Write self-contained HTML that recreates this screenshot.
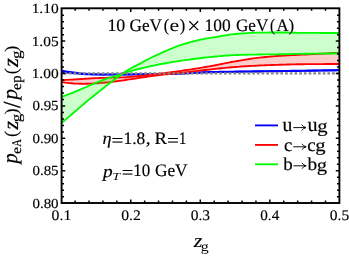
<!DOCTYPE html>
<html><head><meta charset="utf-8"><title>plot</title>
<style>
html,body{margin:0;padding:0;background:#fff;}
svg{display:block;}
text{font-family:"Liberation Serif",serif;fill:#000;stroke:#000;stroke-width:0.16px;text-rendering:geometricPrecision;}
.i{font-style:italic;}
</style></head>
<body>
<svg width="349" height="256" viewBox="0 0 349 256" style="will-change:transform">
<rect width="349" height="256" fill="#fff"/>
<path d="M61.6,70.60 L63.6,70.97 L65.6,71.32 L67.6,71.64 L69.6,71.94 L71.6,72.22 L73.6,72.50 L75.6,72.77 L77.6,73.03 L79.6,73.26 L81.6,73.47 L83.6,73.65 L85.6,73.78 L87.6,73.88 L89.6,73.97 L91.6,74.06 L93.6,74.13 L95.6,74.20 L97.6,74.25 L99.6,74.28 L101.6,74.30 L103.6,74.30 L105.6,74.30 L107.6,74.30 L109.6,74.30 L111.6,74.30 L113.6,74.30 L115.6,74.30 L117.6,74.30 L119.6,74.30 L121.6,74.30 L123.6,74.30 L125.6,74.30 L127.6,74.30 L129.6,74.30 L131.5,74.30 L133.5,74.29 L135.5,74.29 L137.5,74.27 L139.5,74.26 L141.5,74.24 L143.5,74.22 L145.5,74.20 L147.5,74.17 L149.5,74.14 L151.5,74.11 L153.5,74.08 L155.5,74.04 L157.5,74.00 L159.5,73.97 L161.5,73.92 L163.5,73.88 L165.5,73.84 L167.5,73.80 L169.5,73.75 L171.5,73.70 L173.5,73.66 L175.5,73.61 L177.5,73.56 L179.5,73.49 L181.5,73.41 L183.5,73.32 L185.5,73.23 L187.5,73.12 L189.5,73.01 L191.5,72.89 L193.5,72.77 L195.5,72.66 L197.5,72.54 L199.5,72.43 L201.5,72.33 L203.5,72.23 L205.5,72.15 L207.5,72.07 L209.5,72.01 L211.5,71.96 L213.5,71.92 L215.5,71.87 L217.5,71.83 L219.5,71.79 L221.5,71.75 L223.5,71.72 L225.5,71.68 L227.5,71.65 L229.5,71.62 L231.5,71.59 L233.5,71.56 L235.5,71.53 L237.5,71.50 L239.5,71.48 L241.5,71.45 L243.5,71.42 L245.5,71.40 L247.5,71.37 L249.5,71.34 L251.5,71.32 L253.5,71.29 L255.5,71.26 L257.5,71.24 L259.5,71.21 L261.5,71.18 L263.5,71.15 L265.5,71.12 L267.5,71.10 L269.5,71.07 L271.4,71.04 L273.4,71.02 L275.4,70.99 L277.4,70.96 L279.4,70.94 L281.4,70.91 L283.4,70.89 L285.4,70.86 L287.4,70.83 L289.4,70.81 L291.4,70.78 L293.4,70.75 L295.4,70.72 L297.4,70.69 L299.4,70.66 L301.4,70.63 L303.4,70.60 L305.4,70.57 L307.4,70.54 L309.4,70.51 L311.4,70.48 L313.4,70.45 L315.4,70.42 L317.4,70.38 L319.4,70.35 L321.4,70.32 L323.4,70.28 L325.4,70.25 L327.4,70.22 L329.4,70.18 L331.4,70.15 L333.4,70.11 L335.4,70.08 L337.4,70.04 L339.4,70.01 L339.4,70.41 L337.4,70.43 L335.4,70.46 L333.4,70.49 L331.4,70.52 L329.4,70.55 L327.4,70.58 L325.4,70.60 L323.4,70.63 L321.4,70.66 L319.4,70.69 L317.4,70.72 L315.4,70.74 L313.4,70.77 L311.4,70.80 L309.4,70.83 L307.4,70.86 L305.4,70.88 L303.4,70.91 L301.4,70.94 L299.4,70.97 L297.4,70.99 L295.4,71.02 L293.4,71.05 L291.4,71.08 L289.4,71.10 L287.4,71.13 L285.4,71.15 L283.4,71.18 L281.4,71.21 L279.4,71.23 L277.4,71.26 L275.4,71.29 L273.4,71.31 L271.4,71.34 L269.5,71.37 L267.5,71.39 L265.5,71.42 L263.5,71.45 L261.5,71.48 L259.5,71.51 L257.5,71.54 L255.5,71.56 L253.5,71.59 L251.5,71.62 L249.5,71.64 L247.5,71.67 L245.5,71.70 L243.5,71.72 L241.5,71.75 L239.5,71.78 L237.5,71.81 L235.5,71.83 L233.5,71.86 L231.5,71.89 L229.5,71.92 L227.5,71.95 L225.5,71.99 L223.5,72.02 L221.5,72.06 L219.5,72.10 L217.5,72.13 L215.5,72.18 L213.5,72.22 L211.5,72.26 L209.5,72.31 L207.5,72.37 L205.5,72.44 L203.5,72.52 L201.5,72.61 L199.5,72.71 L197.5,72.81 L195.5,72.92 L193.5,73.03 L191.5,73.14 L189.5,73.24 L187.5,73.35 L185.5,73.45 L183.5,73.54 L181.5,73.62 L179.5,73.70 L177.5,73.76 L175.5,73.81 L173.5,73.86 L171.5,73.90 L169.5,73.94 L167.5,73.98 L165.5,74.02 L163.5,74.06 L161.5,74.09 L159.5,74.13 L157.5,74.16 L155.5,74.19 L153.5,74.22 L151.5,74.25 L149.5,74.28 L147.5,74.30 L145.5,74.33 L143.5,74.36 L141.5,74.38 L139.5,74.40 L137.5,74.42 L135.5,74.45 L133.5,74.47 L131.5,74.49 L129.6,74.50 L127.6,74.52 L125.6,74.54 L123.6,74.56 L121.6,74.58 L119.6,74.60 L117.6,74.62 L115.6,74.64 L113.6,74.65 L111.6,74.67 L109.6,74.68 L107.6,74.69 L105.6,74.69 L103.6,74.70 L101.6,74.70 L99.6,74.69 L97.6,74.66 L95.6,74.62 L93.6,74.57 L91.6,74.51 L89.6,74.44 L87.6,74.36 L85.6,74.28 L83.6,74.17 L81.6,74.03 L79.6,73.85 L77.6,73.65 L75.6,73.43 L73.6,73.21 L71.6,72.98 L69.6,72.75 L67.6,72.52 L65.6,72.26 L63.6,71.98 L61.6,71.70 Z" fill="#0000ff" fill-opacity="0.2"/>
<path d="M61.6,70.60 L63.6,70.97 L65.6,71.32 L67.6,71.64 L69.6,71.94 L71.6,72.22 L73.6,72.50 L75.6,72.77 L77.6,73.03 L79.6,73.26 L81.6,73.47 L83.6,73.65 L85.6,73.78 L87.6,73.88 L89.6,73.97 L91.6,74.06 L93.6,74.13 L95.6,74.20 L97.6,74.25 L99.6,74.28 L101.6,74.30 L103.6,74.30 L105.6,74.30 L107.6,74.30 L109.6,74.30 L111.6,74.30 L113.6,74.30 L115.6,74.30 L117.6,74.30 L119.6,74.30 L121.6,74.30 L123.6,74.30 L125.6,74.30 L127.6,74.30 L129.6,74.30 L131.5,74.30 L133.5,74.29 L135.5,74.29 L137.5,74.27 L139.5,74.26 L141.5,74.24 L143.5,74.22 L145.5,74.20 L147.5,74.17 L149.5,74.14 L151.5,74.11 L153.5,74.08 L155.5,74.04 L157.5,74.00 L159.5,73.97 L161.5,73.92 L163.5,73.88 L165.5,73.84 L167.5,73.80 L169.5,73.75 L171.5,73.70 L173.5,73.66 L175.5,73.61 L177.5,73.56 L179.5,73.49 L181.5,73.41 L183.5,73.32 L185.5,73.23 L187.5,73.12 L189.5,73.01 L191.5,72.89 L193.5,72.77 L195.5,72.66 L197.5,72.54 L199.5,72.43 L201.5,72.33 L203.5,72.23 L205.5,72.15 L207.5,72.07 L209.5,72.01 L211.5,71.96 L213.5,71.92 L215.5,71.87 L217.5,71.83 L219.5,71.79 L221.5,71.75 L223.5,71.72 L225.5,71.68 L227.5,71.65 L229.5,71.62 L231.5,71.59 L233.5,71.56 L235.5,71.53 L237.5,71.50 L239.5,71.48 L241.5,71.45 L243.5,71.42 L245.5,71.40 L247.5,71.37 L249.5,71.34 L251.5,71.32 L253.5,71.29 L255.5,71.26 L257.5,71.24 L259.5,71.21 L261.5,71.18 L263.5,71.15 L265.5,71.12 L267.5,71.10 L269.5,71.07 L271.4,71.04 L273.4,71.02 L275.4,70.99 L277.4,70.96 L279.4,70.94 L281.4,70.91 L283.4,70.89 L285.4,70.86 L287.4,70.83 L289.4,70.81 L291.4,70.78 L293.4,70.75 L295.4,70.72 L297.4,70.69 L299.4,70.66 L301.4,70.63 L303.4,70.60 L305.4,70.57 L307.4,70.54 L309.4,70.51 L311.4,70.48 L313.4,70.45 L315.4,70.42 L317.4,70.38 L319.4,70.35 L321.4,70.32 L323.4,70.28 L325.4,70.25 L327.4,70.22 L329.4,70.18 L331.4,70.15 L333.4,70.11 L335.4,70.08 L337.4,70.04 L339.4,70.01" fill="none" stroke="#0000ff" stroke-width="1.85"/>
<path d="M61.6,71.70 L63.6,71.98 L65.6,72.26 L67.6,72.52 L69.6,72.75 L71.6,72.98 L73.6,73.21 L75.6,73.43 L77.6,73.65 L79.6,73.85 L81.6,74.03 L83.6,74.17 L85.6,74.28 L87.6,74.36 L89.6,74.44 L91.6,74.51 L93.6,74.57 L95.6,74.62 L97.6,74.66 L99.6,74.69 L101.6,74.70 L103.6,74.70 L105.6,74.69 L107.6,74.69 L109.6,74.68 L111.6,74.67 L113.6,74.65 L115.6,74.64 L117.6,74.62 L119.6,74.60 L121.6,74.58 L123.6,74.56 L125.6,74.54 L127.6,74.52 L129.6,74.50 L131.5,74.49 L133.5,74.47 L135.5,74.45 L137.5,74.42 L139.5,74.40 L141.5,74.38 L143.5,74.36 L145.5,74.33 L147.5,74.30 L149.5,74.28 L151.5,74.25 L153.5,74.22 L155.5,74.19 L157.5,74.16 L159.5,74.13 L161.5,74.09 L163.5,74.06 L165.5,74.02 L167.5,73.98 L169.5,73.94 L171.5,73.90 L173.5,73.86 L175.5,73.81 L177.5,73.76 L179.5,73.70 L181.5,73.62 L183.5,73.54 L185.5,73.45 L187.5,73.35 L189.5,73.24 L191.5,73.14 L193.5,73.03 L195.5,72.92 L197.5,72.81 L199.5,72.71 L201.5,72.61 L203.5,72.52 L205.5,72.44 L207.5,72.37 L209.5,72.31 L211.5,72.26 L213.5,72.22 L215.5,72.18 L217.5,72.13 L219.5,72.10 L221.5,72.06 L223.5,72.02 L225.5,71.99 L227.5,71.95 L229.5,71.92 L231.5,71.89 L233.5,71.86 L235.5,71.83 L237.5,71.81 L239.5,71.78 L241.5,71.75 L243.5,71.72 L245.5,71.70 L247.5,71.67 L249.5,71.64 L251.5,71.62 L253.5,71.59 L255.5,71.56 L257.5,71.54 L259.5,71.51 L261.5,71.48 L263.5,71.45 L265.5,71.42 L267.5,71.39 L269.5,71.37 L271.4,71.34 L273.4,71.31 L275.4,71.29 L277.4,71.26 L279.4,71.23 L281.4,71.21 L283.4,71.18 L285.4,71.15 L287.4,71.13 L289.4,71.10 L291.4,71.08 L293.4,71.05 L295.4,71.02 L297.4,70.99 L299.4,70.97 L301.4,70.94 L303.4,70.91 L305.4,70.88 L307.4,70.86 L309.4,70.83 L311.4,70.80 L313.4,70.77 L315.4,70.74 L317.4,70.72 L319.4,70.69 L321.4,70.66 L323.4,70.63 L325.4,70.60 L327.4,70.58 L329.4,70.55 L331.4,70.52 L333.4,70.49 L335.4,70.46 L337.4,70.43 L339.4,70.41" fill="none" stroke="#0000ff" stroke-width="1.85"/>
<path d="M61.6,80.20 L63.6,80.07 L65.6,79.95 L67.6,79.82 L69.6,79.70 L71.6,79.58 L73.6,79.46 L75.6,79.34 L77.6,79.22 L79.6,79.11 L81.6,78.99 L83.6,78.86 L85.6,78.74 L87.6,78.62 L89.6,78.49 L91.6,78.38 L93.6,78.27 L95.6,78.16 L97.6,78.07 L99.6,77.99 L101.6,77.91 L103.6,77.86 L105.6,77.81 L107.6,77.77 L109.6,77.73 L111.6,77.70 L113.6,77.66 L115.6,77.62 L117.6,77.57 L119.6,77.51 L121.6,77.44 L123.6,77.34 L125.6,77.22 L127.6,77.08 L129.6,76.93 L131.5,76.77 L133.5,76.59 L135.5,76.41 L137.5,76.23 L139.5,76.04 L141.5,75.85 L143.5,75.64 L145.5,75.42 L147.5,75.18 L149.5,74.94 L151.5,74.68 L153.5,74.42 L155.5,74.16 L157.5,73.90 L159.5,73.64 L161.5,73.38 L163.5,73.14 L165.5,72.90 L167.5,72.66 L169.5,72.42 L171.5,72.18 L173.5,71.93 L175.5,71.66 L177.5,71.39 L179.5,71.11 L181.5,70.83 L183.5,70.54 L185.5,70.24 L187.5,69.94 L189.5,69.64 L191.5,69.33 L193.5,69.01 L195.5,68.69 L197.5,68.37 L199.5,68.04 L201.5,67.71 L203.5,67.37 L205.5,67.03 L207.5,66.69 L209.5,66.34 L211.5,65.98 L213.5,65.61 L215.5,65.23 L217.5,64.83 L219.5,64.43 L221.5,64.02 L223.5,63.61 L225.5,63.20 L227.5,62.80 L229.5,62.41 L231.5,62.03 L233.5,61.67 L235.5,61.32 L237.5,60.98 L239.5,60.64 L241.5,60.30 L243.5,59.96 L245.5,59.63 L247.5,59.31 L249.5,59.00 L251.5,58.70 L253.5,58.41 L255.5,58.14 L257.5,57.89 L259.5,57.66 L261.5,57.44 L263.5,57.24 L265.5,57.04 L267.5,56.85 L269.5,56.67 L271.4,56.49 L273.4,56.32 L275.4,56.16 L277.4,56.01 L279.4,55.87 L281.4,55.73 L283.4,55.60 L285.4,55.47 L287.4,55.36 L289.4,55.26 L291.4,55.16 L293.4,55.07 L295.4,54.98 L297.4,54.88 L299.4,54.78 L301.4,54.68 L303.4,54.57 L305.4,54.47 L307.4,54.37 L309.4,54.27 L311.4,54.17 L313.4,54.07 L315.4,53.96 L317.4,53.86 L319.4,53.76 L321.4,53.66 L323.4,53.55 L325.4,53.45 L327.4,53.35 L329.4,53.24 L331.4,53.14 L333.4,53.03 L335.4,52.93 L337.4,52.83 L339.4,52.72 L339.4,64.00 L337.4,64.00 L335.4,64.00 L333.4,64.01 L331.4,64.01 L329.4,64.02 L327.4,64.03 L325.4,64.04 L323.4,64.05 L321.4,64.06 L319.4,64.08 L317.4,64.09 L315.4,64.11 L313.4,64.13 L311.4,64.14 L309.4,64.16 L307.4,64.18 L305.4,64.20 L303.4,64.22 L301.4,64.25 L299.4,64.27 L297.4,64.29 L295.4,64.32 L293.4,64.36 L291.4,64.41 L289.4,64.47 L287.4,64.53 L285.4,64.59 L283.4,64.65 L281.4,64.71 L279.4,64.77 L277.4,64.83 L275.4,64.90 L273.4,64.97 L271.4,65.04 L269.5,65.11 L267.5,65.19 L265.5,65.27 L263.5,65.35 L261.5,65.44 L259.5,65.52 L257.5,65.62 L255.5,65.72 L253.5,65.82 L251.5,65.93 L249.5,66.04 L247.5,66.16 L245.5,66.28 L243.5,66.41 L241.5,66.54 L239.5,66.68 L237.5,66.82 L235.5,66.96 L233.5,67.12 L231.5,67.28 L229.5,67.46 L227.5,67.65 L225.5,67.85 L223.5,68.05 L221.5,68.26 L219.5,68.47 L217.5,68.69 L215.5,68.91 L213.5,69.12 L211.5,69.34 L209.5,69.55 L207.5,69.77 L205.5,69.99 L203.5,70.22 L201.5,70.45 L199.5,70.68 L197.5,70.92 L195.5,71.15 L193.5,71.39 L191.5,71.63 L189.5,71.87 L187.5,72.10 L185.5,72.34 L183.5,72.57 L181.5,72.80 L179.5,73.02 L177.5,73.24 L175.5,73.45 L173.5,73.65 L171.5,73.85 L169.5,74.04 L167.5,74.23 L165.5,74.42 L163.5,74.62 L161.5,74.83 L159.5,75.06 L157.5,75.30 L155.5,75.56 L153.5,75.83 L151.5,76.11 L149.5,76.40 L147.5,76.69 L145.5,76.98 L143.5,77.28 L141.5,77.58 L139.5,77.87 L137.5,78.16 L135.5,78.47 L133.5,78.78 L131.5,79.09 L129.6,79.40 L127.6,79.71 L125.6,80.01 L123.6,80.30 L121.6,80.59 L119.6,80.86 L117.6,81.12 L115.6,81.39 L113.6,81.64 L111.6,81.89 L109.6,82.12 L107.6,82.34 L105.6,82.54 L103.6,82.74 L101.6,82.94 L99.6,83.12 L97.6,83.28 L95.6,83.42 L93.6,83.52 L91.6,83.60 L89.6,83.68 L87.6,83.75 L85.6,83.79 L83.6,83.80 L81.6,83.78 L79.6,83.73 L77.6,83.66 L75.6,83.58 L73.6,83.46 L71.6,83.28 L69.6,83.07 L67.6,82.85 L65.6,82.61 L63.6,82.32 L61.6,82.00 Z" fill="#ff0000" fill-opacity="0.2"/>
<path d="M61.6,80.20 L63.6,80.07 L65.6,79.95 L67.6,79.82 L69.6,79.70 L71.6,79.58 L73.6,79.46 L75.6,79.34 L77.6,79.22 L79.6,79.11 L81.6,78.99 L83.6,78.86 L85.6,78.74 L87.6,78.62 L89.6,78.49 L91.6,78.38 L93.6,78.27 L95.6,78.16 L97.6,78.07 L99.6,77.99 L101.6,77.91 L103.6,77.86 L105.6,77.81 L107.6,77.77 L109.6,77.73 L111.6,77.70 L113.6,77.66 L115.6,77.62 L117.6,77.57 L119.6,77.51 L121.6,77.44 L123.6,77.34 L125.6,77.22 L127.6,77.08 L129.6,76.93 L131.5,76.77 L133.5,76.59 L135.5,76.41 L137.5,76.23 L139.5,76.04 L141.5,75.85 L143.5,75.64 L145.5,75.42 L147.5,75.18 L149.5,74.94 L151.5,74.68 L153.5,74.42 L155.5,74.16 L157.5,73.90 L159.5,73.64 L161.5,73.38 L163.5,73.14 L165.5,72.90 L167.5,72.66 L169.5,72.42 L171.5,72.18 L173.5,71.93 L175.5,71.66 L177.5,71.39 L179.5,71.11 L181.5,70.83 L183.5,70.54 L185.5,70.24 L187.5,69.94 L189.5,69.64 L191.5,69.33 L193.5,69.01 L195.5,68.69 L197.5,68.37 L199.5,68.04 L201.5,67.71 L203.5,67.37 L205.5,67.03 L207.5,66.69 L209.5,66.34 L211.5,65.98 L213.5,65.61 L215.5,65.23 L217.5,64.83 L219.5,64.43 L221.5,64.02 L223.5,63.61 L225.5,63.20 L227.5,62.80 L229.5,62.41 L231.5,62.03 L233.5,61.67 L235.5,61.32 L237.5,60.98 L239.5,60.64 L241.5,60.30 L243.5,59.96 L245.5,59.63 L247.5,59.31 L249.5,59.00 L251.5,58.70 L253.5,58.41 L255.5,58.14 L257.5,57.89 L259.5,57.66 L261.5,57.44 L263.5,57.24 L265.5,57.04 L267.5,56.85 L269.5,56.67 L271.4,56.49 L273.4,56.32 L275.4,56.16 L277.4,56.01 L279.4,55.87 L281.4,55.73 L283.4,55.60 L285.4,55.47 L287.4,55.36 L289.4,55.26 L291.4,55.16 L293.4,55.07 L295.4,54.98 L297.4,54.88 L299.4,54.78 L301.4,54.68 L303.4,54.57 L305.4,54.47 L307.4,54.37 L309.4,54.27 L311.4,54.17 L313.4,54.07 L315.4,53.96 L317.4,53.86 L319.4,53.76 L321.4,53.66 L323.4,53.55 L325.4,53.45 L327.4,53.35 L329.4,53.24 L331.4,53.14 L333.4,53.03 L335.4,52.93 L337.4,52.83 L339.4,52.72" fill="none" stroke="#ff0000" stroke-width="1.85"/>
<path d="M61.6,82.00 L63.6,82.32 L65.6,82.61 L67.6,82.85 L69.6,83.07 L71.6,83.28 L73.6,83.46 L75.6,83.58 L77.6,83.66 L79.6,83.73 L81.6,83.78 L83.6,83.80 L85.6,83.79 L87.6,83.75 L89.6,83.68 L91.6,83.60 L93.6,83.52 L95.6,83.42 L97.6,83.28 L99.6,83.12 L101.6,82.94 L103.6,82.74 L105.6,82.54 L107.6,82.34 L109.6,82.12 L111.6,81.89 L113.6,81.64 L115.6,81.39 L117.6,81.12 L119.6,80.86 L121.6,80.59 L123.6,80.30 L125.6,80.01 L127.6,79.71 L129.6,79.40 L131.5,79.09 L133.5,78.78 L135.5,78.47 L137.5,78.16 L139.5,77.87 L141.5,77.58 L143.5,77.28 L145.5,76.98 L147.5,76.69 L149.5,76.40 L151.5,76.11 L153.5,75.83 L155.5,75.56 L157.5,75.30 L159.5,75.06 L161.5,74.83 L163.5,74.62 L165.5,74.42 L167.5,74.23 L169.5,74.04 L171.5,73.85 L173.5,73.65 L175.5,73.45 L177.5,73.24 L179.5,73.02 L181.5,72.80 L183.5,72.57 L185.5,72.34 L187.5,72.10 L189.5,71.87 L191.5,71.63 L193.5,71.39 L195.5,71.15 L197.5,70.92 L199.5,70.68 L201.5,70.45 L203.5,70.22 L205.5,69.99 L207.5,69.77 L209.5,69.55 L211.5,69.34 L213.5,69.12 L215.5,68.91 L217.5,68.69 L219.5,68.47 L221.5,68.26 L223.5,68.05 L225.5,67.85 L227.5,67.65 L229.5,67.46 L231.5,67.28 L233.5,67.12 L235.5,66.96 L237.5,66.82 L239.5,66.68 L241.5,66.54 L243.5,66.41 L245.5,66.28 L247.5,66.16 L249.5,66.04 L251.5,65.93 L253.5,65.82 L255.5,65.72 L257.5,65.62 L259.5,65.52 L261.5,65.44 L263.5,65.35 L265.5,65.27 L267.5,65.19 L269.5,65.11 L271.4,65.04 L273.4,64.97 L275.4,64.90 L277.4,64.83 L279.4,64.77 L281.4,64.71 L283.4,64.65 L285.4,64.59 L287.4,64.53 L289.4,64.47 L291.4,64.41 L293.4,64.36 L295.4,64.32 L297.4,64.29 L299.4,64.27 L301.4,64.25 L303.4,64.22 L305.4,64.20 L307.4,64.18 L309.4,64.16 L311.4,64.14 L313.4,64.13 L315.4,64.11 L317.4,64.09 L319.4,64.08 L321.4,64.06 L323.4,64.05 L325.4,64.04 L327.4,64.03 L329.4,64.02 L331.4,64.01 L333.4,64.01 L335.4,64.00 L337.4,64.00 L339.4,64.00" fill="none" stroke="#ff0000" stroke-width="1.85"/>
<path d="M61.6,123.00 L63.6,121.29 L65.6,119.58 L67.6,117.87 L69.6,116.16 L71.6,114.45 L73.6,112.75 L75.6,111.04 L77.6,109.33 L79.6,107.61 L81.6,105.89 L83.6,104.18 L85.6,102.48 L87.6,100.80 L89.6,99.15 L91.6,97.52 L93.6,95.92 L95.6,94.34 L97.6,92.74 L99.6,91.13 L101.6,89.52 L103.6,87.92 L105.6,86.34 L107.6,84.78 L109.6,83.23 L111.6,81.69 L113.6,80.17 L115.6,78.66 L117.6,77.18 L119.6,75.72 L121.6,74.29 L123.6,72.89 L125.6,71.58 L127.6,70.33 L129.6,69.13 L131.5,67.99 L133.5,66.92 L135.5,65.89 L137.5,64.86 L139.5,63.81 L141.5,62.73 L143.5,61.64 L145.5,60.57 L147.5,59.52 L149.5,58.50 L151.5,57.49 L153.5,56.50 L155.5,55.55 L157.5,54.63 L159.5,53.73 L161.5,52.84 L163.5,51.97 L165.5,51.10 L167.5,50.25 L169.5,49.41 L171.5,48.59 L173.5,47.76 L175.5,46.95 L177.5,46.17 L179.5,45.46 L181.5,44.82 L183.5,44.19 L185.5,43.59 L187.5,43.00 L189.5,42.44 L191.5,41.89 L193.5,41.36 L195.5,40.86 L197.5,40.37 L199.5,39.91 L201.5,39.47 L203.5,39.05 L205.5,38.65 L207.5,38.29 L209.5,37.96 L211.5,37.64 L213.5,37.34 L215.5,37.04 L217.5,36.72 L219.5,36.39 L221.5,36.03 L223.5,35.68 L225.5,35.32 L227.5,34.98 L229.5,34.67 L231.5,34.38 L233.5,34.15 L235.5,33.96 L237.5,33.79 L239.5,33.63 L241.5,33.48 L243.5,33.33 L245.5,33.19 L247.5,33.06 L249.5,32.95 L251.5,32.84 L253.5,32.76 L255.5,32.69 L257.5,32.64 L259.5,32.60 L261.5,32.59 L263.5,32.58 L265.5,32.56 L267.5,32.55 L269.5,32.54 L271.4,32.53 L273.4,32.52 L275.4,32.52 L277.4,32.51 L279.4,32.51 L281.4,32.50 L283.4,32.50 L285.4,32.50 L287.4,32.53 L289.4,32.58 L291.4,32.65 L293.4,32.72 L295.4,32.78 L297.4,32.80 L299.4,32.82 L301.4,32.84 L303.4,32.85 L305.4,32.87 L307.4,32.88 L309.4,32.90 L311.4,32.91 L313.4,32.92 L315.4,32.93 L317.4,32.94 L319.4,32.95 L321.4,32.96 L323.4,32.97 L325.4,32.98 L327.4,32.98 L329.4,32.99 L331.4,32.99 L333.4,33.00 L335.4,33.00 L337.4,33.00 L339.4,33.00 L339.4,53.50 L337.4,53.50 L335.4,53.51 L333.4,53.51 L331.4,53.52 L329.4,53.53 L327.4,53.54 L325.4,53.56 L323.4,53.57 L321.4,53.59 L319.4,53.61 L317.4,53.63 L315.4,53.65 L313.4,53.68 L311.4,53.70 L309.4,53.73 L307.4,53.75 L305.4,53.78 L303.4,53.81 L301.4,53.84 L299.4,53.86 L297.4,53.89 L295.4,53.93 L293.4,53.98 L291.4,54.03 L289.4,54.09 L287.4,54.15 L285.4,54.19 L283.4,54.23 L281.4,54.25 L279.4,54.28 L277.4,54.30 L275.4,54.32 L273.4,54.34 L271.4,54.36 L269.5,54.38 L267.5,54.40 L265.5,54.43 L263.5,54.45 L261.5,54.48 L259.5,54.51 L257.5,54.54 L255.5,54.58 L253.5,54.61 L251.5,54.65 L249.5,54.69 L247.5,54.74 L245.5,54.78 L243.5,54.83 L241.5,54.89 L239.5,54.95 L237.5,55.01 L235.5,55.08 L233.5,55.16 L231.5,55.27 L229.5,55.39 L227.5,55.53 L225.5,55.68 L223.5,55.85 L221.5,56.01 L219.5,56.19 L217.5,56.36 L215.5,56.53 L213.5,56.72 L211.5,56.91 L209.5,57.11 L207.5,57.33 L205.5,57.54 L203.5,57.77 L201.5,58.00 L199.5,58.25 L197.5,58.50 L195.5,58.75 L193.5,59.01 L191.5,59.28 L189.5,59.55 L187.5,59.83 L185.5,60.11 L183.5,60.40 L181.5,60.68 L179.5,60.97 L177.5,61.27 L175.5,61.57 L173.5,61.89 L171.5,62.21 L169.5,62.55 L167.5,62.89 L165.5,63.24 L163.5,63.60 L161.5,63.98 L159.5,64.37 L157.5,64.78 L155.5,65.19 L153.5,65.60 L151.5,66.02 L149.5,66.44 L147.5,66.88 L145.5,67.33 L143.5,67.80 L141.5,68.27 L139.5,68.76 L137.5,69.26 L135.5,69.77 L133.5,70.29 L131.5,70.84 L129.6,71.43 L127.6,72.07 L125.6,72.74 L123.6,73.42 L121.6,74.09 L119.6,74.74 L117.6,75.35 L115.6,75.95 L113.6,76.53 L111.6,77.12 L109.6,77.73 L107.6,78.37 L105.6,79.05 L103.6,79.78 L101.6,80.55 L99.6,81.35 L97.6,82.17 L95.6,83.01 L93.6,83.84 L91.6,84.68 L89.6,85.52 L87.6,86.38 L85.6,87.26 L83.6,88.13 L81.6,89.00 L79.6,89.85 L77.6,90.67 L75.6,91.47 L73.6,92.27 L71.6,93.05 L69.6,93.82 L67.6,94.58 L65.6,95.34 L63.6,96.07 L61.6,96.80 Z" fill="#00ff00" fill-opacity="0.2"/>
<path d="M61.6,123.00 L63.6,121.29 L65.6,119.58 L67.6,117.87 L69.6,116.16 L71.6,114.45 L73.6,112.75 L75.6,111.04 L77.6,109.33 L79.6,107.61 L81.6,105.89 L83.6,104.18 L85.6,102.48 L87.6,100.80 L89.6,99.15 L91.6,97.52 L93.6,95.92 L95.6,94.34 L97.6,92.74 L99.6,91.13 L101.6,89.52 L103.6,87.92 L105.6,86.34 L107.6,84.78 L109.6,83.23 L111.6,81.69 L113.6,80.17 L115.6,78.66 L117.6,77.18 L119.6,75.72 L121.6,74.29 L123.6,72.89 L125.6,71.58 L127.6,70.33 L129.6,69.13 L131.5,67.99 L133.5,66.92 L135.5,65.89 L137.5,64.86 L139.5,63.81 L141.5,62.73 L143.5,61.64 L145.5,60.57 L147.5,59.52 L149.5,58.50 L151.5,57.49 L153.5,56.50 L155.5,55.55 L157.5,54.63 L159.5,53.73 L161.5,52.84 L163.5,51.97 L165.5,51.10 L167.5,50.25 L169.5,49.41 L171.5,48.59 L173.5,47.76 L175.5,46.95 L177.5,46.17 L179.5,45.46 L181.5,44.82 L183.5,44.19 L185.5,43.59 L187.5,43.00 L189.5,42.44 L191.5,41.89 L193.5,41.36 L195.5,40.86 L197.5,40.37 L199.5,39.91 L201.5,39.47 L203.5,39.05 L205.5,38.65 L207.5,38.29 L209.5,37.96 L211.5,37.64 L213.5,37.34 L215.5,37.04 L217.5,36.72 L219.5,36.39 L221.5,36.03 L223.5,35.68 L225.5,35.32 L227.5,34.98 L229.5,34.67 L231.5,34.38 L233.5,34.15 L235.5,33.96 L237.5,33.79 L239.5,33.63 L241.5,33.48 L243.5,33.33 L245.5,33.19 L247.5,33.06 L249.5,32.95 L251.5,32.84 L253.5,32.76 L255.5,32.69 L257.5,32.64 L259.5,32.60 L261.5,32.59 L263.5,32.58 L265.5,32.56 L267.5,32.55 L269.5,32.54 L271.4,32.53 L273.4,32.52 L275.4,32.52 L277.4,32.51 L279.4,32.51 L281.4,32.50 L283.4,32.50 L285.4,32.50 L287.4,32.53 L289.4,32.58 L291.4,32.65 L293.4,32.72 L295.4,32.78 L297.4,32.80 L299.4,32.82 L301.4,32.84 L303.4,32.85 L305.4,32.87 L307.4,32.88 L309.4,32.90 L311.4,32.91 L313.4,32.92 L315.4,32.93 L317.4,32.94 L319.4,32.95 L321.4,32.96 L323.4,32.97 L325.4,32.98 L327.4,32.98 L329.4,32.99 L331.4,32.99 L333.4,33.00 L335.4,33.00 L337.4,33.00 L339.4,33.00" fill="none" stroke="#00fc00" stroke-width="1.85"/>
<path d="M61.6,96.80 L63.6,96.07 L65.6,95.34 L67.6,94.58 L69.6,93.82 L71.6,93.05 L73.6,92.27 L75.6,91.47 L77.6,90.67 L79.6,89.85 L81.6,89.00 L83.6,88.13 L85.6,87.26 L87.6,86.38 L89.6,85.52 L91.6,84.68 L93.6,83.84 L95.6,83.01 L97.6,82.17 L99.6,81.35 L101.6,80.55 L103.6,79.78 L105.6,79.05 L107.6,78.37 L109.6,77.73 L111.6,77.12 L113.6,76.53 L115.6,75.95 L117.6,75.35 L119.6,74.74 L121.6,74.09 L123.6,73.42 L125.6,72.74 L127.6,72.07 L129.6,71.43 L131.5,70.84 L133.5,70.29 L135.5,69.77 L137.5,69.26 L139.5,68.76 L141.5,68.27 L143.5,67.80 L145.5,67.33 L147.5,66.88 L149.5,66.44 L151.5,66.02 L153.5,65.60 L155.5,65.19 L157.5,64.78 L159.5,64.37 L161.5,63.98 L163.5,63.60 L165.5,63.24 L167.5,62.89 L169.5,62.55 L171.5,62.21 L173.5,61.89 L175.5,61.57 L177.5,61.27 L179.5,60.97 L181.5,60.68 L183.5,60.40 L185.5,60.11 L187.5,59.83 L189.5,59.55 L191.5,59.28 L193.5,59.01 L195.5,58.75 L197.5,58.50 L199.5,58.25 L201.5,58.00 L203.5,57.77 L205.5,57.54 L207.5,57.33 L209.5,57.11 L211.5,56.91 L213.5,56.72 L215.5,56.53 L217.5,56.36 L219.5,56.19 L221.5,56.01 L223.5,55.85 L225.5,55.68 L227.5,55.53 L229.5,55.39 L231.5,55.27 L233.5,55.16 L235.5,55.08 L237.5,55.01 L239.5,54.95 L241.5,54.89 L243.5,54.83 L245.5,54.78 L247.5,54.74 L249.5,54.69 L251.5,54.65 L253.5,54.61 L255.5,54.58 L257.5,54.54 L259.5,54.51 L261.5,54.48 L263.5,54.45 L265.5,54.43 L267.5,54.40 L269.5,54.38 L271.4,54.36 L273.4,54.34 L275.4,54.32 L277.4,54.30 L279.4,54.28 L281.4,54.25 L283.4,54.23 L285.4,54.19 L287.4,54.15 L289.4,54.09 L291.4,54.03 L293.4,53.98 L295.4,53.93 L297.4,53.89 L299.4,53.86 L301.4,53.84 L303.4,53.81 L305.4,53.78 L307.4,53.75 L309.4,53.73 L311.4,53.70 L313.4,53.68 L315.4,53.65 L317.4,53.63 L319.4,53.61 L321.4,53.59 L323.4,53.57 L325.4,53.56 L327.4,53.54 L329.4,53.53 L331.4,53.52 L333.4,53.51 L335.4,53.51 L337.4,53.50 L339.4,53.50" fill="none" stroke="#00fc00" stroke-width="1.85"/>
<path d="M61.6,73.45H339.4" fill="none" stroke="#858585" stroke-width="2.2" stroke-dasharray="2.7 2.0" stroke-dashoffset="-2.6"/>
<path d="M61.6,196.72h2.4M339.4,196.72h-2.4M61.6,190.23h2.4M339.4,190.23h-2.4M61.6,183.75h2.4M339.4,183.75h-2.4M61.6,177.27h2.4M339.4,177.27h-2.4M61.6,170.78h3.6M339.4,170.78h-3.6M61.6,164.30h2.4M339.4,164.30h-2.4M61.6,157.82h2.4M339.4,157.82h-2.4M61.6,151.33h2.4M339.4,151.33h-2.4M61.6,144.85h2.4M339.4,144.85h-2.4M61.6,138.37h3.6M339.4,138.37h-3.6M61.6,131.88h2.4M339.4,131.88h-2.4M61.6,125.40h2.4M339.4,125.40h-2.4M61.6,118.92h2.4M339.4,118.92h-2.4M61.6,112.43h2.4M339.4,112.43h-2.4M61.6,105.95h3.6M339.4,105.95h-3.6M61.6,99.47h2.4M339.4,99.47h-2.4M61.6,92.98h2.4M339.4,92.98h-2.4M61.6,86.50h2.4M339.4,86.50h-2.4M61.6,80.02h2.4M339.4,80.02h-2.4M61.6,73.53h3.6M339.4,73.53h-3.6M61.6,67.05h2.4M339.4,67.05h-2.4M61.6,60.57h2.4M339.4,60.57h-2.4M61.6,54.08h2.4M339.4,54.08h-2.4M61.6,47.60h2.4M339.4,47.60h-2.4M61.6,41.12h3.6M339.4,41.12h-3.6M61.6,34.63h2.4M339.4,34.63h-2.4M61.6,28.15h2.4M339.4,28.15h-2.4M61.6,21.67h2.4M339.4,21.67h-2.4M61.6,15.18h2.4M339.4,15.18h-2.4M75.11,203.0v-2.4M75.11,8.3v2.4M89.02,203.0v-2.4M89.02,8.3v2.4M102.93,203.0v-2.4M102.93,8.3v2.4M116.84,203.0v-2.4M116.84,8.3v2.4M130.75,203.0v-3.6M130.75,8.3v3.6M144.66,203.0v-2.4M144.66,8.3v2.4M158.57,203.0v-2.4M158.57,8.3v2.4M172.48,203.0v-2.4M172.48,8.3v2.4M186.39,203.0v-2.4M186.39,8.3v2.4M200.30,203.0v-3.6M200.30,8.3v3.6M214.21,203.0v-2.4M214.21,8.3v2.4M228.12,203.0v-2.4M228.12,8.3v2.4M242.03,203.0v-2.4M242.03,8.3v2.4M255.94,203.0v-2.4M255.94,8.3v2.4M269.85,203.0v-3.6M269.85,8.3v3.6M283.76,203.0v-2.4M283.76,8.3v2.4M297.67,203.0v-2.4M297.67,8.3v2.4M311.58,203.0v-2.4M311.58,8.3v2.4M325.49,203.0v-2.4M325.49,8.3v2.4" fill="none" stroke="#000" stroke-width="1.5"/>
<rect x="61.6" y="8.3" width="277.80" height="194.70" fill="none" stroke="#000" stroke-width="1.9"/>
<text font-size="17.5" transform="translate(107.42,30.50) scale(1.021,1.000)">10</text>
<text font-size="17.5" transform="translate(129.51,30.50) scale(0.984,1.000)">GeV</text>
<text font-size="17.5" transform="translate(163.77,30.50) scale(0.911,1.000)">(</text>
<text style="stroke:none" font-size="17.5" transform="translate(169.57,30.50) scale(1.246,1.000)">e</text>
<text font-size="17.5" transform="translate(179.66,30.50) scale(0.937,1.000)">)</text>
<text font-size="17.5" transform="translate(204.56,30.50) scale(0.995,1.000)">100</text>
<text font-size="17.5" transform="translate(235.91,30.50) scale(0.981,1.000)">GeV</text>
<text font-size="17.5" transform="translate(270.00,30.50) scale(0.867,1.000)">(</text>
<text font-size="17.5" transform="translate(276.43,30.50) scale(0.954,1.000)">A</text>
<text font-size="17.5" transform="translate(288.55,30.50) scale(0.960,1.000)">)</text>
<text class="i" font-size="17.5" transform="translate(102.50,144.30) scale(1.044,1.000)">η</text>
<text font-size="17.5" transform="translate(111.39,145.90) scale(1.206,1.000)">=</text>
<text font-size="17.5" transform="translate(123.46,144.30) scale(0.992,1.000)">1.8</text>
<text font-size="17.5" transform="translate(145.86,144.30) scale(1.105,1.000)">,</text>
<text font-size="17.5" transform="translate(154.62,144.30) scale(1.070,1.000)">R</text>
<text font-size="17.5" transform="translate(166.99,145.90) scale(1.206,1.000)">=</text>
<text font-size="17.5" transform="translate(179.00,144.30) scale(0.832,1.000)">1</text>
<text class="i" font-size="17.5" transform="translate(103.05,176.53) scale(1.103,0.992)">p</text>
<text class="i" style="stroke:none" font-size="11" transform="translate(112.19,180.05) scale(1.283,0.982)">T</text>
<text font-size="17.5" transform="translate(121.73,178.10) scale(1.169,1.000)">=</text>
<text font-size="17.5" transform="translate(133.20,175.80) scale(0.969,1.000)">10</text>
<text font-size="17.5" transform="translate(154.91,175.80) scale(0.990,1.000)">GeV</text>
<text font-size="17.5" transform="translate(282.47,131.41) scale(1.127,1.132)">u</text>
<text font-size="17.5" transform="translate(307.56,131.41) scale(1.152,1.132)">u</text>
<text font-size="17.5" transform="translate(317.16,131.74) scale(1.180,1.043)">g</text>
<text font-size="17.5" transform="translate(283.98,150.62) scale(1.072,1.063)">c</text>
<text font-size="17.5" transform="translate(307.17,150.62) scale(1.087,1.063)">c</text>
<text font-size="17.5" transform="translate(315.16,150.96) scale(1.180,1.012)">g</text>
<text font-size="17.5" transform="translate(283.25,170.17) scale(1.083,1.041)">b</text>
<text font-size="17.5" transform="translate(307.55,170.17) scale(1.108,1.041)">b</text>
<text font-size="17.5" transform="translate(316.76,170.84) scale(1.180,1.043)">g</text>
<text class="i" font-size="19" transform="translate(193.64,246.85) scale(1.166,1.017)">z</text>
<text style="stroke:none" font-size="13" transform="translate(200.78,250.55) scale(1.227,1.056)">g</text>
<text font-size="15" transform="translate(32.43,207.62) scale(0.996,0.927)">0.80</text>
<text font-size="15" transform="translate(32.43,175.20) scale(0.996,0.927)">0.85</text>
<text font-size="15" transform="translate(32.43,142.78) scale(0.996,0.927)">0.90</text>
<text font-size="15" transform="translate(32.43,110.37) scale(0.996,0.927)">0.95</text>
<text font-size="15" transform="translate(31.64,77.95) scale(1.027,0.927)">1.00</text>
<text font-size="15" transform="translate(31.64,45.53) scale(1.027,0.927)">1.05</text>
<text font-size="15" transform="translate(31.64,13.12) scale(1.027,0.927)">1.10</text>
<text font-size="15" transform="translate(51.59,219.71) scale(1.049,0.976)">0.1</text>
<text font-size="15" transform="translate(121.14,219.71) scale(1.049,0.976)">0.2</text>
<text font-size="15" transform="translate(190.70,219.71) scale(1.034,0.976)">0.3</text>
<text font-size="15" transform="translate(260.27,219.71) scale(1.013,0.976)">0.4</text>
<text font-size="15" transform="translate(329.80,219.71) scale(1.034,0.976)">0.5</text>
<text class="i" font-size="19" transform="translate(17.25,163.55) rotate(-90) scale(1.070,1.126)">p</text>
<text font-size="13" transform="translate(20.62,154.07) rotate(-90) scale(1.231,1.072)">e</text>
<text font-size="13" transform="translate(20.75,146.85) rotate(-90) scale(0.811,1.043)">A</text>
<text font-size="19" transform="translate(17.07,136.98) rotate(-90) scale(0.944,0.946)">(</text>
<text class="i" font-size="19" transform="translate(17.95,129.56) rotate(-90) scale(1.153,1.166)">z</text>
<text font-size="13" transform="translate(21.36,122.27) rotate(-90) scale(1.316,1.088)">g</text>
<text font-size="19" transform="translate(17.07,114.33) rotate(-90) scale(0.923,0.946)">)</text>
<text font-size="19" transform="translate(20.39,108.05) rotate(-90) scale(1.219,1.291)">/</text>
<text class="i" font-size="19" transform="translate(17.21,99.41) rotate(-90) scale(1.100,1.134)">p</text>
<text font-size="13" transform="translate(20.51,90.03) rotate(-90) scale(1.169,1.088)">e</text>
<text font-size="13" transform="translate(20.96,82.73) rotate(-90) scale(1.113,1.161)">p</text>
<text font-size="19" transform="translate(17.07,74.18) rotate(-90) scale(0.944,0.946)">(</text>
<text class="i" font-size="19" transform="translate(17.95,67.05) rotate(-90) scale(1.193,1.166)">z</text>
<text font-size="13" transform="translate(21.43,59.07) rotate(-90) scale(1.316,1.099)">g</text>
<text font-size="19" transform="translate(17.07,51.84) rotate(-90) scale(0.944,0.946)">)</text>
<path d="M189.3,21.2L198.2,30.1M198.2,21.2L189.3,30.1" stroke="#000" stroke-width="1.25" fill="none"/>
<path d="M293.3,127.6H305.6" stroke="#000" stroke-width="0.95" fill="none"/><path d="M301.6,124.69999999999999Q303.4,127.0 306.0,127.6Q303.4,128.2 301.6,130.5" stroke="#000" stroke-width="0.95" fill="none"/>
<path d="M293.3,146.8H305.8" stroke="#000" stroke-width="0.95" fill="none"/><path d="M301.8,143.9Q303.59999999999997,146.20000000000002 306.2,146.8Q303.59999999999997,147.4 301.8,149.70000000000002" stroke="#000" stroke-width="0.95" fill="none"/>
<path d="M293.5,165.8H305.8" stroke="#000" stroke-width="0.95" fill="none"/><path d="M301.8,162.9Q303.59999999999997,165.20000000000002 306.2,165.8Q303.59999999999997,166.4 301.8,168.70000000000002" stroke="#000" stroke-width="0.95" fill="none"/>
<path d="M255,125.4H278" stroke="#0000ff" stroke-width="1.85"/>
<path d="M255,144.9H278" stroke="#ff0000" stroke-width="1.85"/>
<path d="M255,164.3H278" stroke="#00fc00" stroke-width="1.85"/>
</svg>
</body></html>
